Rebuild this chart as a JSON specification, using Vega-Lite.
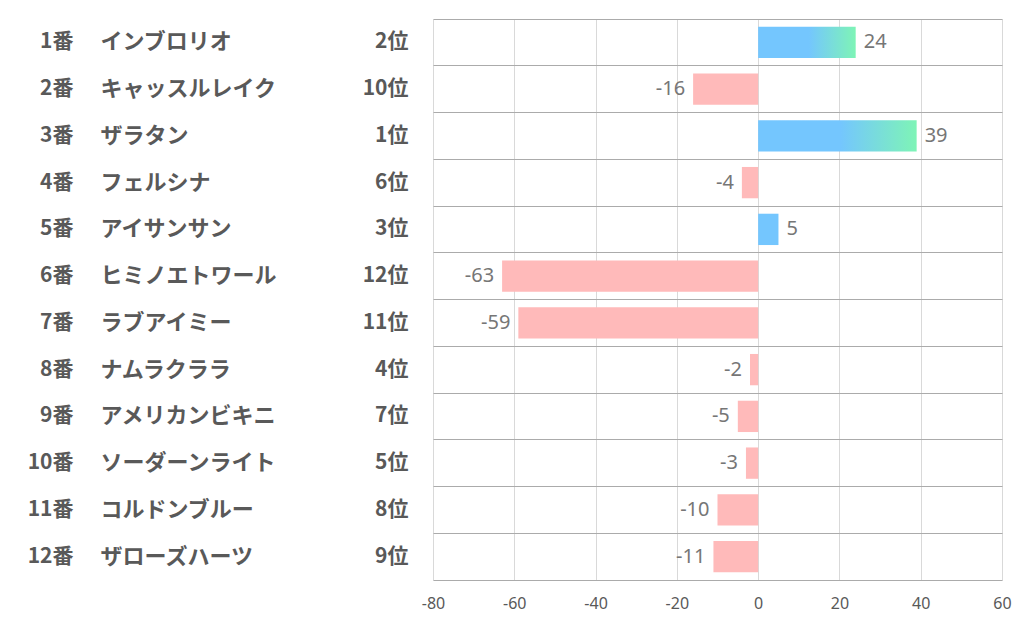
{
  "$schema": "https://vega.github.io/schema/vega-lite/v6.json",
  "autosize": {"type": "none"},
  "padding": {"left": 433, "top": 19, "right": 20, "bottom": 46},
  "width": 569,
  "height": 561,
  "background": "white",
  "config": {"view": {"stroke": null}},
  "data": {"values": [
    {"no": "1番", "name": "インブロリオ", "rank": "2位", "v": 24},
    {"no": "2番", "name": "キャッスルレイク", "rank": "10位", "v": -16},
    {"no": "3番", "name": "ザラタン", "rank": "1位", "v": 39},
    {"no": "4番", "name": "フェルシナ", "rank": "6位", "v": -4},
    {"no": "5番", "name": "アイサンサン", "rank": "3位", "v": 5},
    {"no": "6番", "name": "ヒミノエトワール", "rank": "12位", "v": -63},
    {"no": "7番", "name": "ラブアイミー", "rank": "11位", "v": -59},
    {"no": "8番", "name": "ナムラクララ", "rank": "4位", "v": -2},
    {"no": "9番", "name": "アメリカンビキニ", "rank": "7位", "v": -5},
    {"no": "10番", "name": "ソーダーンライト", "rank": "5位", "v": -3},
    {"no": "11番", "name": "コルドンブルー", "rank": "8位", "v": -10},
    {"no": "12番", "name": "ザローズハーツ", "rank": "9位", "v": -11}
  ]},
  "resolve": {"scale": {"y": "independent"}, "axis": {"y": "independent"}},
  "encoding": {
    "x": {
      "field": "v", "type": "quantitative",
      "scale": {"domain": [-80, 60], "nice": false, "zero": false},
      "axis": {
        "title": null, "values": [-80, -60, -40, -20, 0, 20, 40, 60],
        "labelExpr": "'' + datum.value",
        "grid": true, "gridColor": "#D9D9D9", "gridWidth": 1,
        "ticks": false, "domain": true, "domainColor": "#ABABAB", "domainWidth": 1,
        "labelFont": "Noto Sans", "labelFontSize": 16, "labelColor": "#595959",
        "labelPadding": 15, "labelFlush": false
      }
    }
  },
  "layer": [
    {
      "encoding": {
        "y": {
          "field": "name", "type": "nominal", "sort": null,
          "scale": {"paddingInner": 0.33, "paddingOuter": 0.165},
          "axis": {
            "orient": "left", "title": null, "domain": false, "ticks": false, "grid": false,
            "labelAlign": "left", "labelPadding": 333,
            "labelFont": "Noto Sans CJK JP", "labelFontWeight": "bold", "labelFontSize": 22,
            "labelColor": "#595959", "labelLimit": 300
          }
        }
      },
      "layer": [
        {
          "mark": {"type": "bar"},
          "encoding": {
            "color": {
              "condition": [
                {"test": "datum.v < 0", "value": "#FFBABA"},
                {"test": "datum.v < 10", "value": "#74C6FE"}
              ],
              "value": {
                "gradient": "linear", "x1": 0, "x2": 1, "y1": 0, "y2": 0,
                "stops": [
                  {"offset": 0, "color": "#74C6FE"},
                  {"offset": 0.52, "color": "#74C6FE"},
                  {"offset": 1, "color": "#7EF4B6"}
                ]
              }
            }
          }
        },
        {
          "mark": {"type": "text", "align": "left", "baseline": "middle", "dx": 8, "font": "Noto Sans", "fontSize": 20, "color": "#767676"},
          "encoding": {
            "text": {"field": "v", "type": "nominal"},
            "opacity": {"condition": {"test": "datum.v > 0", "value": 1}, "value": 0}
          }
        },
        {
          "mark": {"type": "text", "align": "right", "baseline": "middle", "dx": -8, "font": "Noto Sans", "fontSize": 20, "color": "#767676"},
          "encoding": {
            "text": {"field": "v", "type": "nominal"},
            "opacity": {"condition": {"test": "datum.v < 0", "value": 1}, "value": 0}
          }
        }
      ]
    },
    {
      "mark": {"type": "bar", "opacity": 0},
      "encoding": {
        "y": {
          "field": "rank", "type": "nominal", "sort": null,
          "scale": {"paddingInner": 0, "paddingOuter": 0},
          "axis": {
            "orient": "left", "title": null, "domain": false, "ticks": false, "grid": false,
            "labelAlign": "right", "labelPadding": 25,
            "labelFont": "Noto Sans CJK JP", "labelFontWeight": "bold", "labelFontSize": 21,
            "labelColor": "#595959"
          }
        }
      }
    },
    {
      "mark": {"type": "bar", "opacity": 0},
      "encoding": {
        "y": {
          "field": "no", "type": "nominal", "sort": null,
          "scale": {"paddingInner": 0, "paddingOuter": 0},
          "axis": {
            "orient": "left", "title": null, "domain": false, "ticks": false, "grid": false,
            "labelAlign": "right", "labelPadding": 360,
            "labelFont": "Noto Sans CJK JP", "labelFontWeight": "bold", "labelFontSize": 21,
            "labelColor": "#595959"
          }
        }
      }
    },
    {
      "mark": {"type": "bar", "opacity": 0},
      "encoding": {
        "y": {
          "field": "name", "type": "nominal", "sort": null,
          "scale": {"paddingInner": 0, "paddingOuter": 0},
          "axis": {
            "orient": "left", "title": null, "domain": false, "ticks": false, "labels": false,
            "grid": true, "gridColor": "#ABABAB", "gridWidth": 1, "bandPosition": 0
          }
        }
      }
    }
  ]
}
